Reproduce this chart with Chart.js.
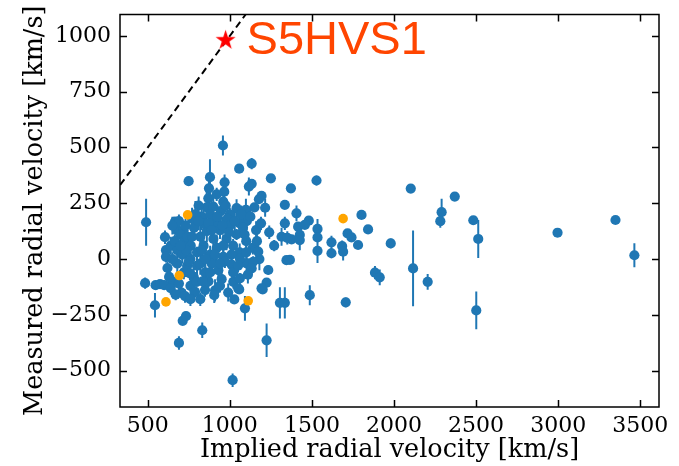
<!DOCTYPE html>
<html>
<head>
<meta charset="utf-8">
<script src="https://cdn.jsdelivr.net/npm/chart.js@4.4.1/dist/chart.umd.min.js"></script>
<style>
  html, body { margin: 0; padding: 0; background: #ffffff; }
  #wrap { width: 679px; height: 466px; }
</style>
</head>
<body>
<div id="wrap"><canvas id="rv" width="679" height="466"></canvas></div>
<script>
// Candidate stars: implied vs. measured radial velocity (km/s)
const impliedRV = [
  490, 484, 544, 548, 575, 605, 611, 611, 666, 676,
  717, 749, 690, 713, 733, 832, 1017, 1092, 1027, 958,
  1133, 1057, 1250, 879, 873, 968, 966, 1133, 1116, 1193,
  1177, 1372, 1335, 1335, 1406, 1416, 1426, 1376, 1426, 1366,
  1345, 1224, 1305, 1335, 1200, 1224, 1234, 1193, 1528, 1481,
  1457, 1534, 1534, 1534, 1619, 1619, 1684, 1690, 1717, 1741,
  1781, 1802, 1842, 1980, 1884, 1913, 2102, 2116, 2205, 1487,
  1706, 2370, 2290, 2282, 2483, 2513, 2501, 2996, 3349, 3464,
  869, 859, 828, 899, 899, 960, 1041, 1098, 1102, 1000,
  945, 920, 930, 985, 1060, 1150, 640, 680, 700, 722,
  742, 762, 782, 800, 820, 840, 860, 880, 900, 920,
  940, 960, 980, 1000, 1020, 1041, 1060, 1080, 1100, 1120,
  1140, 1160, 1180, 620, 650, 680, 705, 720, 740, 760,
  780, 800, 820, 850, 870, 890, 910, 930, 950, 970,
  990, 727, 788, 849, 905, 798, 757, 1011, 1021, 1061,
  1057, 1102, 1142, 1133, 1173, 600, 640, 1061, 1051, 690,
  710, 770, 810, 840, 880, 760, 820, 650, 735, 880,
  960, 1020, 1100, 1315, 1350, 650, 665, 700, 730, 750,
  770, 790, 810, 830, 850, 870, 890, 910, 925, 940,
  955, 975, 995, 1010, 1030, 1050, 1070, 1090, 1110, 1125,
  1165, 1190, 1215, 1240, 1270, 630, 670, 690, 760, 835,
  940
];
const measuredRV = [
  165, -108, -207, -117, -112, 98, 40, 10, 168, 130,
  130, 349, -376, -277, -256, -319, -543, -221, -181, 509,
  428, 405, 362, 367, 317, 344, 302, 337, 325, 283,
  268, 317, 243, 160, 205, 145, 108, 88, 85, -4,
  -5, -364, -196, -196, -136, -106, -49, -131, 352, 172,
  153, 135, 97, 37, 75, 26, 58, 33, 115, 97,
  63, 198, 133, 70, -61, -82, 316, -42, -102, -162,
  -194, 280, 210, 170, 174, 90, -230, 118, 175, 17,
  272, 232, 190, 235, 175, 257, 228, 220, 170, 200,
  215, 290, 150, 180, 160, 232, 60, 40, 110, 80,
  100, 60, 140, 30, 100, 60, 125, 20, 90, 50,
  130, 10, 90, 150, 60, 110, 30, 140, 80, -20,
  50, 130, 0, -40, -100, -20, -150, -60, -30, -120,
  -80, -30, -180, -60, -100, -20, -140, -50, -90, -10,
  -150, -166, -147, -139, -162, -102, -64, -25, -102, -87,
  -136, -19, -12, -42, 33, -117, -130, 3, -131, 170,
  20, 180, 240, 160, 200, 0, -20, 0, 40, -60,
  60, -60, 30, 100, 95, 150, 80, 60, 150, -10,
  100, 200, 170, 40, 0, 160, 130, 20, 190, -20,
  150, 240, 120, 20, 170, -30, 200, 110, -70, 190,
  80, 160, 230, 120, 60, -80, -160, -110, -180, -100,
  -120
];
const rvError = [
  105, 25, 55, 0, 15, 30, 20, 25, 20, 30,
  35, 20, 30, 10, 20, 35, 30, 55, 0, 45,
  25, 0, 0, 80, 70, 35, 60, 0, 40, 0,
  0, 0, 0, 30, 35, 0, 0, 0, 45, 0,
  15, 75, 70, 70, 0, 0, 20, 20, 22, 0,
  0, 45, 0, 55, 30, 22, 25, 40, 0, 0,
  12, 15, 0, 22, 30, 35, 18, 170, 35, 45,
  22, 0, 60, 30, 15, 85, 85, 0, 10, 54,
  40, 90, 60, 40, 70, 30, 40, 50, 40, 30,
  50, 30, 40, 60, 30, 20, 40, 30, 20, 35,
  30, 50, 40, 25, 60, 30, 50, 40, 30, 60,
  40, 30, 50, 40, 30, 25, 40, 60, 30, 20,
  30, 40, 50, 30, 20, 40, 25, 30, 50, 30,
  40, 60, 30, 40, 25, 35, 50, 30, 45, 30,
  40, 30, 25, 30, 35, 20, 30, 30, 30, 25,
  20, 30, 25, 30, 30, 20, 30, 0, 20, 30,
  40, 50, 40, 70, 40, 30, 50, 30, 40, 30,
  50, 25, 40, 40, 30, 40, 30, 50, 30, 40,
  30, 60, 40, 30, 50, 30, 40, 30, 50, 30,
  40, 30, 40, 30, 50, 30, 40, 30, 40, 30,
  40, 30, 40, 30, 25, 30, 25, 30, 30, 40,
  30
];

// Highlighted subset (orange)
const flaggedImplied = [743, 692, 611, 1112, 1690];
const flaggedMeasured = [198, -74, -192, -187, 181];

// S5HVS1
const s5hvs1Implied = [974];
const s5hvs1Measured = [985];
const s5hvs1Label = { text: 'S5HVS1', x: 1102, y: 918 };

// One-to-one reference line (measured = implied)
const oneToOne = [0, 1200];

// Axis limits and tick labels
const xLimits = [331, 3614];
const yLimits = [-663, 1096];
const xTickValues = [500, 1000, 1500, 2000, 2500, 3000, 3500];
const yTickValues = [-500, -250, 0, 250, 500, 750, 1000];

const BLUE = '#1f77b4';
const ORANGE = '#ffa500';
const SERIF = '"DejaVu Serif", serif';

// Filled five-pointed star used as the S5HVS1 marker
function makeStar(outer, color) {
  const size = Math.ceil(outer * 2 + 2);
  const c = document.createElement('canvas');
  c.width = size; c.height = size;
  const g = c.getContext('2d');
  const inner = outer * 0.381966;
  const cx = size / 2, cy = size / 2 + outer * 0.1;
  g.beginPath();
  for (let i = 0; i < 10; i++) {
    const r = i % 2 === 0 ? outer : inner;
    const a = -Math.PI / 2 + i * Math.PI / 5;
    const px = cx + r * Math.cos(a), py = cy + r * Math.sin(a);
    if (i === 0) g.moveTo(px, py); else g.lineTo(px, py);
  }
  g.closePath();
  g.fillStyle = color;
  g.fill();
  return c;
}

// Vertical error bars on the main sample
const errorBars = {
  id: 'errorBars',
  beforeDatasetsDraw(chart) {
    const { ctx, chartArea: a, scales: { x, y } } = chart;
    ctx.save();
    ctx.beginPath();
    ctx.rect(a.left, a.top, a.right - a.left, a.bottom - a.top);
    ctx.clip();
    ctx.strokeStyle = BLUE;
    ctx.lineWidth = 2;
    ctx.lineCap = 'butt';
    for (let i = 0; i < impliedRV.length; i++) {
      if (!rvError[i]) continue;
      const px = x.getPixelForValue(impliedRV[i]);
      ctx.beginPath();
      ctx.moveTo(px, y.getPixelForValue(measuredRV[i] - rvError[i]));
      ctx.lineTo(px, y.getPixelForValue(measuredRV[i] + rvError[i]));
      ctx.stroke();
    }
    ctx.restore();
  }
};

// Frame with inward ticks on all four sides, plus the S5HVS1 label
const frameAndLabel = {
  id: 'frameAndLabel',
  afterDraw(chart) {
    const { ctx, chartArea: a, scales: { x, y } } = chart;
    const len = 7;
    ctx.save();
    ctx.strokeStyle = '#000';
    ctx.lineWidth = 1.5;
    ctx.strokeRect(a.left, a.top, a.right - a.left, a.bottom - a.top);
    ctx.beginPath();
    xTickValues.forEach(v => {
      const px = Math.round(x.getPixelForValue(v)) + 0.5;
      ctx.moveTo(px, a.bottom); ctx.lineTo(px, a.bottom - len);
      ctx.moveTo(px, a.top); ctx.lineTo(px, a.top + len);
    });
    yTickValues.forEach(v => {
      const py = Math.round(y.getPixelForValue(v)) + 0.5;
      ctx.moveTo(a.left, py); ctx.lineTo(a.left + len, py);
      ctx.moveTo(a.right, py); ctx.lineTo(a.right - len, py);
    });
    ctx.stroke();

    ctx.fillStyle = '#ff4500';
    ctx.font = '47px "Liberation Sans", Arial, sans-serif';
    ctx.textAlign = 'left';
    ctx.textBaseline = 'alphabetic';
    ctx.fillText(s5hvs1Label.text, x.getPixelForValue(s5hvs1Label.x), y.getPixelForValue(s5hvs1Label.y));
    ctx.restore();
  }
};

const minusFormat = v => String(v).replace('-', '\u2212');

new Chart(document.getElementById('rv'), {
  type: 'scatter',
  data: {
    datasets: [
      {
        type: 'line',
        data: oneToOne.map(v => ({ x: v, y: v })),
        borderColor: '#000',
        borderWidth: 2,
        borderDash: [7, 4.5],
        pointRadius: 0,
        fill: false,
        clip: 0,
        order: 3
      },
      {
        data: impliedRV.map((v, i) => ({ x: v, y: measuredRV[i] })),
        backgroundColor: BLUE,
        borderWidth: 0,
        pointRadius: 5.1,
        clip: 0,
        order: 2
      },
      {
        data: flaggedImplied.map((v, i) => ({ x: v, y: flaggedMeasured[i] })),
        backgroundColor: ORANGE,
        borderWidth: 0,
        pointRadius: 4.8,
        clip: 0,
        order: 1
      },
      {
        data: s5hvs1Implied.map((v, i) => ({ x: v, y: s5hvs1Measured[i] })),
        pointStyle: makeStar(10.5, '#ff0000'),
        pointRadius: 11,
        clip: false,
        order: 0
      }
    ]
  },
  options: {
    responsive: false,
    animation: false,
    events: [],
    layout: { padding: { top: 14.5, right: 20, left: 0, bottom: 0 } },
    plugins: { legend: { display: false }, tooltip: { enabled: false } },
    scales: {
      x: {
        type: 'linear',
        min: xLimits[0],
        max: xLimits[1],
        afterBuildTicks: s => { s.ticks = xTickValues.map(v => ({ value: v })); },
        afterFit: s => { s.height = 59; s.paddingLeft = 0; s.paddingRight = 0; },
        grid: { display: false, drawTicks: false },
        border: { display: false },
        ticks: {
          color: '#000',
          padding: 6,
          maxRotation: 0,
          autoSkip: false,
          font: { family: SERIF, size: 22 },
          callback: minusFormat
        },
        title: {
          display: true,
          text: 'Implied radial velocity [km/s]',
          color: '#000',
          font: { family: SERIF, size: 25.5 },
          padding: { top: 0, bottom: 0 }
        }
      },
      y: {
        type: 'linear',
        min: yLimits[0],
        max: yLimits[1],
        afterBuildTicks: s => { s.ticks = yTickValues.map(v => ({ value: v })); },
        afterFit: s => { s.width = 120; s.paddingTop = 0; s.paddingBottom = 0; },
        grid: { display: false, drawTicks: false },
        border: { display: false },
        ticks: {
          color: '#000',
          padding: 9,
          autoSkip: false,
          font: { family: SERIF, size: 22 },
          callback: minusFormat
        },
        title: {
          display: true,
          text: 'Measured radial velocity [km/s]',
          color: '#000',
          font: { family: SERIF, size: 25.5 },
          padding: { top: 20, bottom: 0 }
        }
      }
    }
  },
  plugins: [errorBars, frameAndLabel]
});
</script>
</body>
</html>
